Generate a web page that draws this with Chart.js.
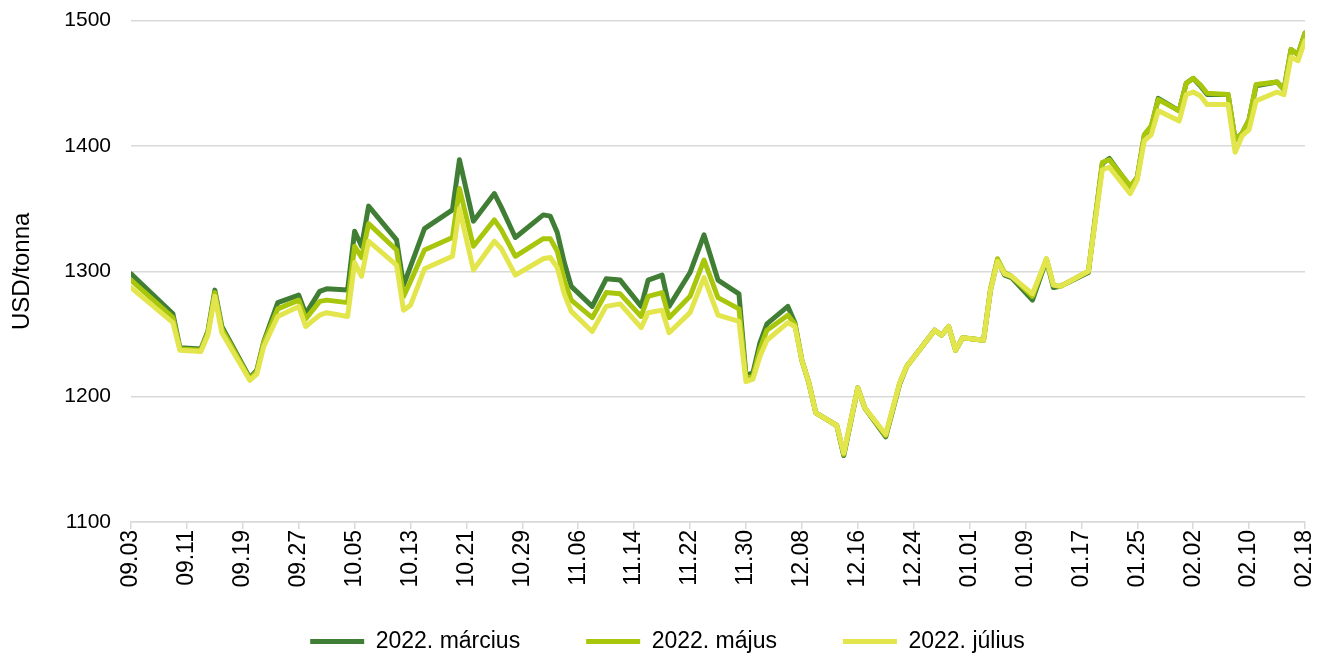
<!DOCTYPE html>
<html>
<head>
<meta charset="utf-8">
<script src="https://cdn.jsdelivr.net/npm/chart.js@4/dist/chart.umd.min.js"></script>
<style>
  html, body { margin: 0; padding: 0; background: #fff; }
  #wrap { width: 1329px; height: 657px; }
</style>
</head>
<body>
<div id="wrap"><canvas id="chart"></canvas></div>
<script>
// trading days (MM.DD), Sept 2021 - Feb 2022
const dates = [
  '09.03','09.09','09.10','09.13','09.14','09.15','09.16','09.20','09.21','09.22','09.24',
  '09.27','09.28','09.30','10.01','10.04','10.05','10.06','10.07','10.11','10.12','10.13',
  '10.15','10.19','10.20','10.22','10.25','10.26','10.28','11.01','11.02','11.03','11.04',
  '11.05','11.08','11.10','11.12','11.15','11.16','11.18','11.19','11.22','11.24','11.26',
  '11.29','11.30','12.01','12.02','12.03','12.06','12.07','12.08','12.09','12.10','12.13',
  '12.14','12.16','12.17','12.20','12.22','12.23','12.27','12.28','12.29','12.30','12.31',
  '01.03','01.04','01.05','01.06','01.07','01.10','01.12','01.13','01.14','01.18','01.20',
  '01.21','01.24','01.25','01.26','01.27','01.28','01.31','02.01','02.02','02.03','02.04',
  '02.07','02.08','02.09','02.10','02.11','02.14','02.15','02.16','02.17','02.18'
];
const marcius = [
  1298,1266,1239,1238,1252,1285,1256,1215,1221,1244,1275,
  1281,1266,1284,1286,1285,1332,1320,1352,1325,1289,1304,
  1334,1349,1389,1340,1362,1351,1327,1345,1344,1331,1307,
  1288,1272,1294,1293,1272,1293,1297,1272,1299,1329,1293,
  1282,1217,1219,1243,1258,1272,1259,1229,1211,1187,1177,
  1153,1207,1191,1168,1210,1224,1253,1249,1256,1237,1247,
  1245,1285,1309,1297,1295,1277,1309,1287,1288,1299,1386,
  1390,1367,1375,1408,1415,1438,1428,1450,1454,1448,1441,
  1441,1405,1410,1421,1448,1451,1445,1477,1473,1490
];
const majus = [
  1293,1263,1238,1237,1251,1283,1254,1214,1220,1243,1270,
  1277,1262,1276,1277,1275,1320,1311,1338,1317,1280,1292,
  1317,1327,1366,1320,1341,1333,1312,1326,1326,1316,1293,
  1277,1263,1283,1282,1264,1280,1283,1263,1280,1309,1279,
  1270,1215,1216,1238,1253,1265,1258,1229,1211,1187,1177,
  1154,1207,1191,1169,1211,1224,1253,1249,1256,1237,1247,
  1245,1286,1310,1299,1296,1280,1310,1289,1288,1300,1387,
  1389,1368,1375,1409,1416,1437,1428,1450,1454,1449,1442,
  1441,1405,1410,1421,1449,1451,1445,1477,1473,1490
];
const julius = [
  1287,1259,1237,1236,1249,1280,1251,1213,1218,1240,1264,
  1272,1256,1265,1267,1264,1307,1296,1324,1305,1269,1273,
  1302,1312,1350,1301,1324,1318,1297,1310,1311,1303,1282,
  1268,1252,1272,1274,1255,1267,1269,1251,1267,1295,1265,
  1260,1212,1214,1232,1245,1259,1256,1229,1211,1187,1177,
  1155,1207,1191,1170,1211,1224,1253,1249,1256,1237,1247,
  1245,1285,1308,1298,1296,1282,1310,1289,1288,1300,1381,
  1383,1362,1373,1404,1409,1428,1420,1441,1443,1440,1433,
  1433,1395,1408,1413,1436,1443,1441,1471,1468,1484
];
const seriesNames = ['2022. március', '2022. május', '2022. július'];
const seriesColors = ['#407e35', '#a8c70c', '#e3e54c'];
const yTicks = [1100, 1200, 1300, 1400, 1500];

const startDay = Date.UTC(2021, 8, 3);
function dayOffset(s) {
  const [m, d] = s.split('.').map(Number);
  const y = m >= 9 ? 2021 : 2022;
  return Math.round((Date.UTC(y, m - 1, d) - startDay) / 86400000);
}
function dayLabel(v) {
  const t = new Date(startDay + v * 86400000);
  return String(t.getUTCMonth() + 1).padStart(2, '0') + '.' + String(t.getUTCDate()).padStart(2, '0');
}
const xs = dates.map(dayOffset);
const lastDay = xs[xs.length - 1];
const toPoints = vals => vals.map((v, i) => ({x: xs[i], y: v}));

const font = 'Liberation Sans, Arial, sans-serif';

// legend needs wide gaps between items but must sit higher than its padding allows
const legendNudge = {
  id: 'legendNudge',
  afterLayout(chart) {
    const lg = chart.legend;
    if (lg) lg.top -= 33; // keep bottom so the legend clip still covers the items
  }
};

new Chart(document.getElementById('chart'), {
  type: 'line',
  data: {
    datasets: [marcius, majus, julius].map((vals, i) => ({
      label: seriesNames[i],
      data: toPoints(vals),
      borderColor: seriesColors[i],
      backgroundColor: seriesColors[i],
      borderWidth: 5,
      borderCapStyle: 'round',
      borderJoinStyle: 'round',
      pointRadius: 0,
      tension: 0,
      order: 2 - i // július drawn on top
    }))
  },
  plugins: [legendNudge],
  options: {
    responsive: true,
    maintainAspectRatio: false,
    animation: false,
    layout: { padding: { left: 30, right: 24, top: 2, bottom: 0 } },
    plugins: {
      tooltip: { enabled: false },
      legend: {
        position: 'bottom',
        maxHeight: 60,
        labels: {
          usePointStyle: true,
          pointStyle: 'line',
          pointStyleWidth: 54,
          boxWidth: 54,
          padding: 66,
          color: '#000',
          font: { family: font, size: 23 },
          sort: (a, b) => a.datasetIndex - b.datasetIndex
        }
      }
    },
    scales: {
      x: {
        type: 'linear',
        min: 0,
        max: lastDay,
        afterBuildTicks: s => { s.ticks = []; for (let v = 0; v <= lastDay; v += 8) s.ticks.push({value: v}); },
        afterFit: s => { s.height = 75; },
        ticks: {
          callback: v => dayLabel(v),
          minRotation: 90,
          maxRotation: 90,
          autoSkip: false,
          padding: 1,
          color: '#000',
          font: { family: font, size: 23, lineHeight: 1 }
        },
        grid: { drawOnChartArea: false, drawTicks: true, tickLength: 7, color: '#d9d9d9', lineWidth: 1.5 },
        border: { display: true, color: '#d9d9d9', width: 1.5 }
      },
      y: {
        min: 1100,
        max: 1500,
        afterBuildTicks: s => { s.ticks = yTicks.map(v => ({value: v})); },
        afterFit: s => { s.width = 101; },
        ticks: { padding: 8, color: '#000', font: { family: font, size: 21 }, callback: v => String(v) },
        grid: { drawTicks: true, tickLength: 12, tickColor: 'rgba(0,0,0,0)', color: '#d9d9d9', lineWidth: 1.5 },
        border: { display: false },
        title: { display: true, text: 'USD/tonna', color: '#000', font: { family: font, size: 24 }, padding: { top: -22, bottom: 0 } }
      }
    }
  }
});
</script>
</body>
</html>
